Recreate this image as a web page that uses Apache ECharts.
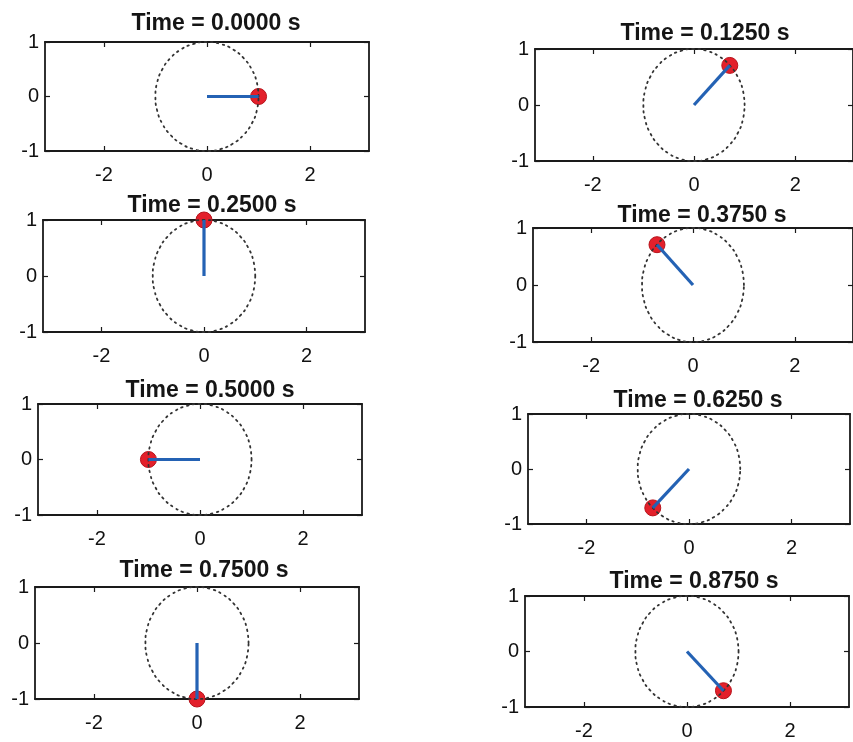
<!DOCTYPE html>
<html>
<head>
<meta charset="utf-8">
<script src="https://cdn.jsdelivr.net/npm/echarts@6/dist/echarts.min.js"></script>
<style>html,body{margin:0;padding:0;background:#fff;}#c{width:853px;height:742px;}</style>
</head>
<body>
<div id="c"></div>
<script>
// ---- data ----
const times = ['0.0000', '0.1250', '0.2500', '0.3750', '0.5000', '0.6250', '0.7500', '0.8750'];
const bobX = [1, 0.707, 0, -0.707, -1, -0.707, 0, 0.707];
const bobY = [0, 0.707, 1, 0.707, 0, -0.707, -1, -0.707];
const pivot = [0, 0];
const circleX = [1, 0.966, 0.866, 0.707, 0.5, 0.259, 0, -0.259, -0.5, -0.707, -0.866, -0.966, -1, -0.966, -0.866, -0.707, -0.5, -0.259, 0, 0.259, 0.5, 0.707, 0.866, 0.966, 1];
const circleY = [0, 0.259, 0.5, 0.707, 0.866, 0.966, 1, 0.966, 0.866, 0.707, 0.5, 0.259, 0, -0.259, -0.5, -0.707, -0.866, -0.966, -1, -0.966, -0.866, -0.707, -0.5, -0.259, 0];
const xTicks = [-2, 0, 2];
const yTicks = [-1, 0, 1];
const xRange = [-3.1416, 3.1416];
const yRange = [-1, 1];

// ---- layout (panel boxes and title centres) ----
const boxes = [
  {left: 45, top: 42, width: 324, height: 109},
  {left: 535, top: 49, width: 324, height: 112},
  {left: 43, top: 220, width: 322, height: 112},
  {left: 533, top: 228, width: 320, height: 114},
  {left: 38, top: 404, width: 324, height: 111},
  {left: 528, top: 414, width: 322, height: 110},
  {left: 35, top: 587, width: 324, height: 112},
  {left: 525, top: 596, width: 324, height: 111}
];
const titlePos = [[211, 20], [700, 30], [207, 202], [697, 212], [205, 387], [693, 397], [199, 567], [689, 578]];

const axisColor = '#1a1a1a';
const labelFont = {fontFamily: 'Liberation Sans, Arial, sans-serif', fontSize: 20, color: '#111'};

const grid = [], xAxis = [], yAxis = [], series = [], title = [];
const circleData = circleX.map((x, k) => [x, circleY[k]]);

boxes.forEach((b, i) => {
  grid.push({left: b.left, top: b.top, width: b.width, height: b.height, containLabel: false});
  title.push({
    text: 'Time = ' + times[i] + ' s',
    left: titlePos[i][0], top: titlePos[i][1] - 13, textAlign: 'center',
    textStyle: {fontFamily: 'Liberation Sans, Arial, sans-serif', fontSize: 23, fontWeight: 'bold', color: '#151515'}
  });
  const axLine = {show: true, onZero: false, lineStyle: {color: axisColor, width: 1.8}};
  xAxis.push({
    type: 'value', gridIndex: i, position: 'bottom', min: xRange[0], max: xRange[1],
    axisLine: axLine, splitLine: {show: false},
    axisTick: {show: true, inside: true, length: 5, customValues: xTicks, lineStyle: {color: axisColor, width: 1.2}},
    axisLabel: Object.assign({show: true, margin: 14, customValues: xTicks}, labelFont)
  });
  xAxis.push({
    type: 'value', gridIndex: i, position: 'top', min: xRange[0], max: xRange[1],
    axisLine: axLine, splitLine: {show: false},
    axisTick: {show: true, inside: true, length: 5, customValues: xTicks, lineStyle: {color: axisColor, width: 1.2}},
    axisLabel: {show: false}
  });
  yAxis.push({
    type: 'value', gridIndex: i, position: 'left', min: yRange[0], max: yRange[1],
    axisLine: axLine, splitLine: {show: false},
    axisTick: {show: true, inside: true, length: 5, customValues: yTicks, lineStyle: {color: axisColor, width: 1.2}},
    axisLabel: Object.assign({show: true, margin: 6, customValues: yTicks}, labelFont)
  });
  yAxis.push({
    type: 'value', gridIndex: i, position: 'right', min: yRange[0], max: yRange[1],
    axisLine: axLine, splitLine: {show: false},
    axisTick: {show: true, inside: true, length: 5, customValues: yTicks, lineStyle: {color: axisColor, width: 1.2}},
    axisLabel: {show: false}
  });
  series.push({
    type: 'line', xAxisIndex: 2 * i, yAxisIndex: 2 * i, data: circleData, smooth: true,
    showSymbol: false, symbol: 'none', silent: true, clip: false,
    lineStyle: {color: '#333', width: 1.8, type: [1.6, 4.4], cap: 'round'}
  });
  series.push({
    type: 'line', xAxisIndex: 2 * i, yAxisIndex: 2 * i,
    data: [[pivot[0], pivot[1]], [bobX[i], bobY[i]]],
    showSymbol: false, symbol: 'none', silent: true, clip: false,
    lineStyle: {color: '#2462b4', width: 3.2}
  });
  series.push({
    type: 'scatter', xAxisIndex: 2 * i, yAxisIndex: 2 * i,
    data: [[bobX[i], bobY[i]]], symbol: 'circle', symbolSize: 16, clip: false, silent: true,
    itemStyle: {color: '#e3202b', borderColor: '#b8141c', borderWidth: 1, opacity: 1}
  });
});

const chart = echarts.init(document.getElementById('c'), null, {renderer: 'canvas'});
chart.setOption({
  backgroundColor: '#ffffff',
  animation: false,
  title: title,
  grid: grid,
  xAxis: xAxis,
  yAxis: yAxis,
  series: series
});
</script>
</body>
</html>
